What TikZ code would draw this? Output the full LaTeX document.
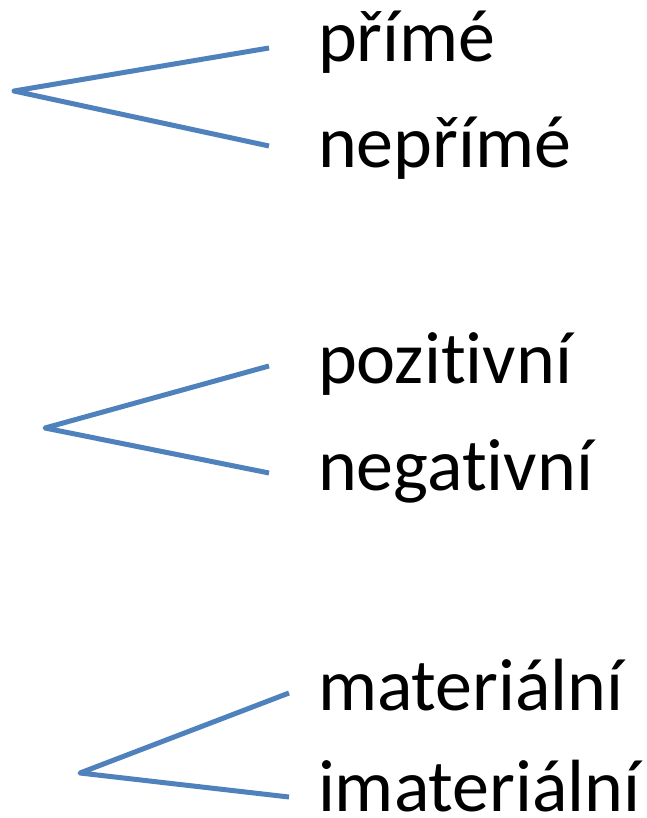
\documentclass[tikz,border=0pt]{standalone}
\usepackage{fontspec}
\setmainfont{Carlito}[Ligatures={NoCommon,NoContextual},RawFeature={-liga;-dlig;-calt}]
\definecolor{branchblue}{HTML}{4F81BD}
% break the t+i ligature of the font
\newcommand{\ti}{t\kern0pt i}
\tikzset{
  branch/.style={draw=branchblue, line width=5pt, line cap=butt, line join=round},
  term/.style={anchor=base west, inner sep=0pt, outer sep=0pt, font=\fontsize{74}{80}\selectfont}
}
\begin{document}
\begin{tikzpicture}[x=1pt, y=-1pt]
  \useasboundingbox (0,0) rectangle (646,818);

  % first pair
  \coordinate (r1) at (14,91);
  \coordinate (e1a) at (269,48);
  \coordinate (e1b) at (269,146);
  \node[term] (t1a) at (318,62) {přímé};
  \node[term] (t1b) at (318,168) {nepřímé};
  \draw[branch] (e1a) -- (r1) -- (e1b);

  % second pair
  \coordinate (r2) at (45,428);
  \coordinate (e2a) at (269,366);
  \coordinate (e2b) at (269,473);
  \node[term] (t2a) at (318,383) {pozi\ti vní};
  \node[term] (t2b) at (318,490) {nega\ti vní};
  \draw[branch] (e2a) -- (r2) -- (e2b);

  % third pair
  \coordinate (r3) at (80,773);
  \coordinate (e3a) at (289,693);
  \coordinate (e3b) at (289,797);
  \node[term] (t3a) at (318,710) {materiální};
  \node[term] (t3b) at (318,811) {imateriální};
  \draw[branch] (e3a) -- (r3) -- (e3b);
\end{tikzpicture}
\end{document}
